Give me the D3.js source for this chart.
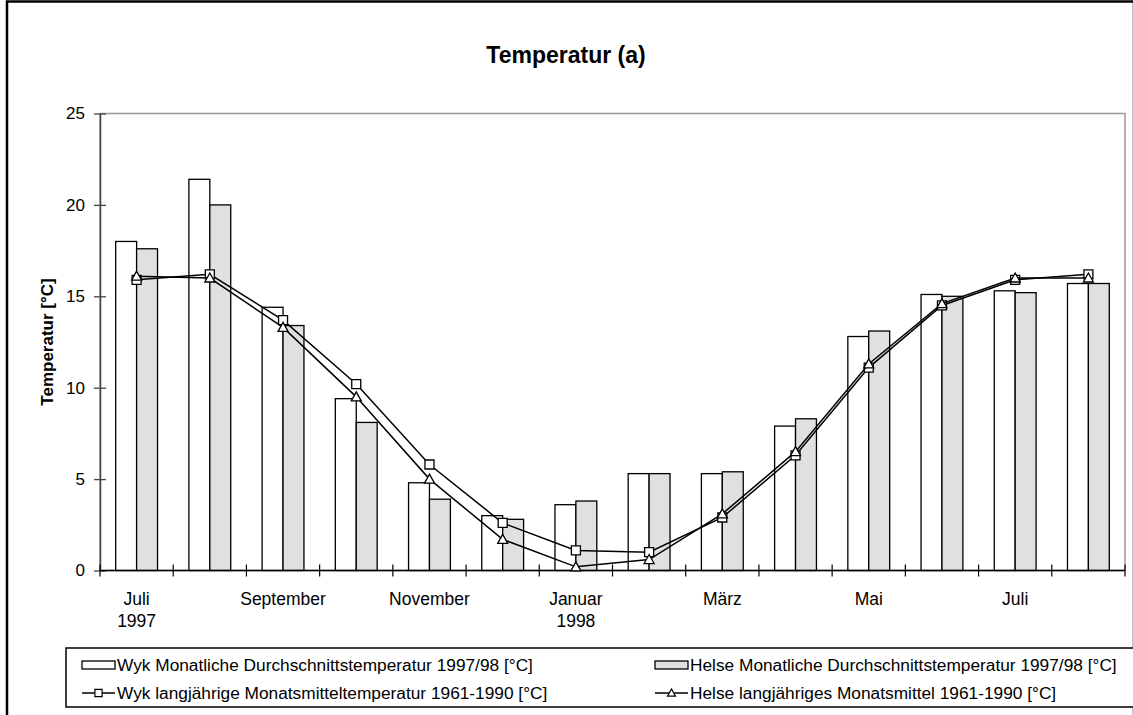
<!DOCTYPE html>
<html>
<head>
<meta charset="utf-8">
<script src="https://cdn.jsdelivr.net/npm/d3@7"></script>
<style>
  body { margin: 0; background: #fff; }
  text { font-family: Arial, "Liberation Sans", sans-serif; }
</style>
</head>
<body>
<script>
const W = 1133;
const H = 715;

// months from Juli 1997 to August 1998
const months = ["Juli", "August", "September", "Oktober", "November", "Dezember",
  "Januar", "Februar", "März", "April", "Mai", "Juni", "Juli", "August"];
const years = ["1997", "", "", "", "", "", "1998", "", "", "", "", "", "", ""];

const wykMonthly   = [18.0, 21.4, 14.4, 9.4, 4.8, 3.0, 3.6, 5.3, 5.3, 7.9, 12.8, 15.1, 15.3, 15.7];
const helseMonthly = [17.6, 20.0, 13.4, 8.1, 3.9, 2.8, 3.8, 5.3, 5.4, 8.3, 13.1, 15.0, 15.2, 15.7];
const wykLong      = [15.9, 16.2, 13.7, 10.2, 5.8, 2.6, 1.1, 1.0, 2.9, 6.3, 11.1, 14.5, 15.9, 16.2];
const helseLong    = [16.1, 16.0, 13.3, 9.5, 5.0, 1.7, 0.2, 0.6, 3.1, 6.5, 11.3, 14.6, 16.0, 16.0];

const yTicks = [0, 5, 10, 15, 20, 25];

const legendNames = [
  "Wyk Monatliche Durchschnittstemperatur 1997/98 [°C]",
  "Helse Monatliche Durchschnittstemperatur 1997/98 [°C]",
  "Wyk langjährige Monatsmitteltemperatur 1961-1990 [°C]",
  "Helse langjähriges Monatsmittel 1961-1990 [°C]"
];

const gray = "#e0e0e0";

const svg = d3.select("body").append("svg")
  .attr("width", W)
  .attr("height", H);

// outer frame
svg.append("rect")
  .attr("x", 7).attr("y", 1.5)
  .attr("width", 1127).attr("height", 760)
  .attr("fill", "none").attr("stroke", "#000").attr("stroke-width", 2.5);

const x = d3.scaleBand().domain(d3.range(months.length)).range([100, 1125]);
const y = d3.scaleLinear().domain([0, 25]).range([570.5, 113.5]);
const bw = x.bandwidth() / 3.5;
const cx = i => x(i) + x.bandwidth() / 2;

// plot area border
svg.append("rect")
  .attr("x", 100).attr("y", y(25))
  .attr("width", 1125 - 100).attr("height", y(0) - y(25))
  .attr("fill", "none").attr("stroke", "#999").attr("stroke-width", 1.5);

// title
svg.append("text")
  .attr("x", 566).attr("y", 63)
  .attr("text-anchor", "middle")
  .style("font-size", "23px").style("font-weight", "bold")
  .text("Temperatur (a)");

// y label
svg.append("text")
  .attr("transform", "translate(53," + (y(12.5)) + ") rotate(-90)")
  .attr("text-anchor", "middle")
  .style("font-size", "17px").style("font-weight", "bold")
  .text("Temperatur [°C]");

// bars
svg.selectAll(".wyk").data(wykMonthly).enter().append("rect")
  .attr("class", "wyk")
  .attr("x", (d, i) => cx(i) - bw)
  .attr("y", d => y(d))
  .attr("width", bw)
  .attr("height", d => y(0) - y(d))
  .attr("fill", "#fff").attr("stroke", "#000").attr("stroke-width", 1.3);

svg.selectAll(".helse").data(helseMonthly).enter().append("rect")
  .attr("class", "helse")
  .attr("x", (d, i) => cx(i))
  .attr("y", d => y(d))
  .attr("width", bw)
  .attr("height", d => y(0) - y(d))
  .attr("fill", gray).attr("stroke", "#000").attr("stroke-width", 1.3);

// y axis
const yAxis = svg.append("g").attr("transform", "translate(100,0)")
  .call(d3.axisLeft(y).tickValues(yTicks).tickSize(6).tickSizeOuter(0).tickPadding(9));
yAxis.select(".domain").attr("stroke", "#444").attr("stroke-width", 1.5);
yAxis.selectAll(".tick line").attr("stroke", "#444").attr("stroke-width", 1.3).attr("x2", 6).attr("x1", -6);
yAxis.selectAll(".tick text").style("font-size", "17px").attr("fill", "#000")
  .attr("font-family", null);

// x axis with category boundary ticks
const xAxis = svg.append("g");
xAxis.append("line")
  .attr("x1", 100).attr("x2", 1125).attr("y1", y(0)).attr("y2", y(0))
  .attr("stroke", "#000").attr("stroke-width", 1.5);
xAxis.selectAll(".xt").data(d3.range(months.length + 1)).enter().append("line")
  .attr("x1", i => i < months.length ? x(i) : 1125)
  .attr("x2", i => i < months.length ? x(i) : 1125)
  .attr("y1", y(0) - 6).attr("y2", y(0) + 6)
  .attr("stroke", "#000").attr("stroke-width", 1.2);

const lab = xAxis.selectAll(".xl").data(months).enter().append("text")
  .attr("text-anchor", "middle")
  .style("font-size", "17.5px")
  .attr("x", (d, i) => cx(i))
  .attr("y", 605)
  .style("display", (d, i) => i % 2 === 0 ? null : "none");
lab.append("tspan").attr("x", (d, i) => cx(i)).text(d => d);
lab.append("tspan").attr("x", (d, i) => cx(i)).attr("dy", 22).text((d, i) => years[i]);

// lines
const line = d3.line().x((d, i) => cx(i)).y(d => y(d));
const square = "M-4.5,-4.5H4.5V4.5H-4.5Z";
const triangle = "M0,-5L5,4L-5,4Z";

function series(values, marker) {
  const g = svg.append("g");
  g.append("path").datum(values).attr("d", line)
    .attr("fill", "none").attr("stroke", "#000").attr("stroke-width", 1.5);
  g.selectAll("path.m").data(values).enter().append("path")
    .attr("class", "m")
    .attr("d", marker)
    .attr("transform", (d, i) => "translate(" + cx(i) + "," + y(d) + ")")
    .attr("fill", "#fff").attr("stroke", "#000").attr("stroke-width", 1.3);
}
series(wykLong, square);
series(helseLong, triangle);

// legend
svg.append("rect")
  .attr("x", 66).attr("y", 648)
  .attr("width", 1100).attr("height", 59)
  .attr("fill", "#fff").attr("stroke", "#000").attr("stroke-width", 1.5);

const legendPos = [[82, 665], [655, 665], [82, 693], [655, 693]];
legendNames.forEach((name, k) => {
  const [lx, ly] = legendPos[k];
  const g = svg.append("g").attr("transform", "translate(" + lx + "," + ly + ")");
  if (k < 2) {
    g.append("rect").attr("x", 0).attr("y", -4).attr("width", 33).attr("height", 8)
      .attr("fill", k === 0 ? "#fff" : gray).attr("stroke", "#000").attr("stroke-width", 1.3);
  } else {
    g.append("line").attr("x1", 0).attr("x2", 33).attr("y1", 0).attr("y2", 0)
      .attr("stroke", "#000").attr("stroke-width", 1.5);
    g.append("path").attr("d", k === 2 ? square : triangle)
      .attr("transform", "translate(16.5,0) scale(0.8)")
      .attr("fill", "#fff").attr("stroke", "#000").attr("stroke-width", 1.5);
  }
  g.append("text").attr("x", 35).attr("y", 6)
    .style("font-size", "17.3px")
    .text(name);
});
</script>
</body>
</html>
